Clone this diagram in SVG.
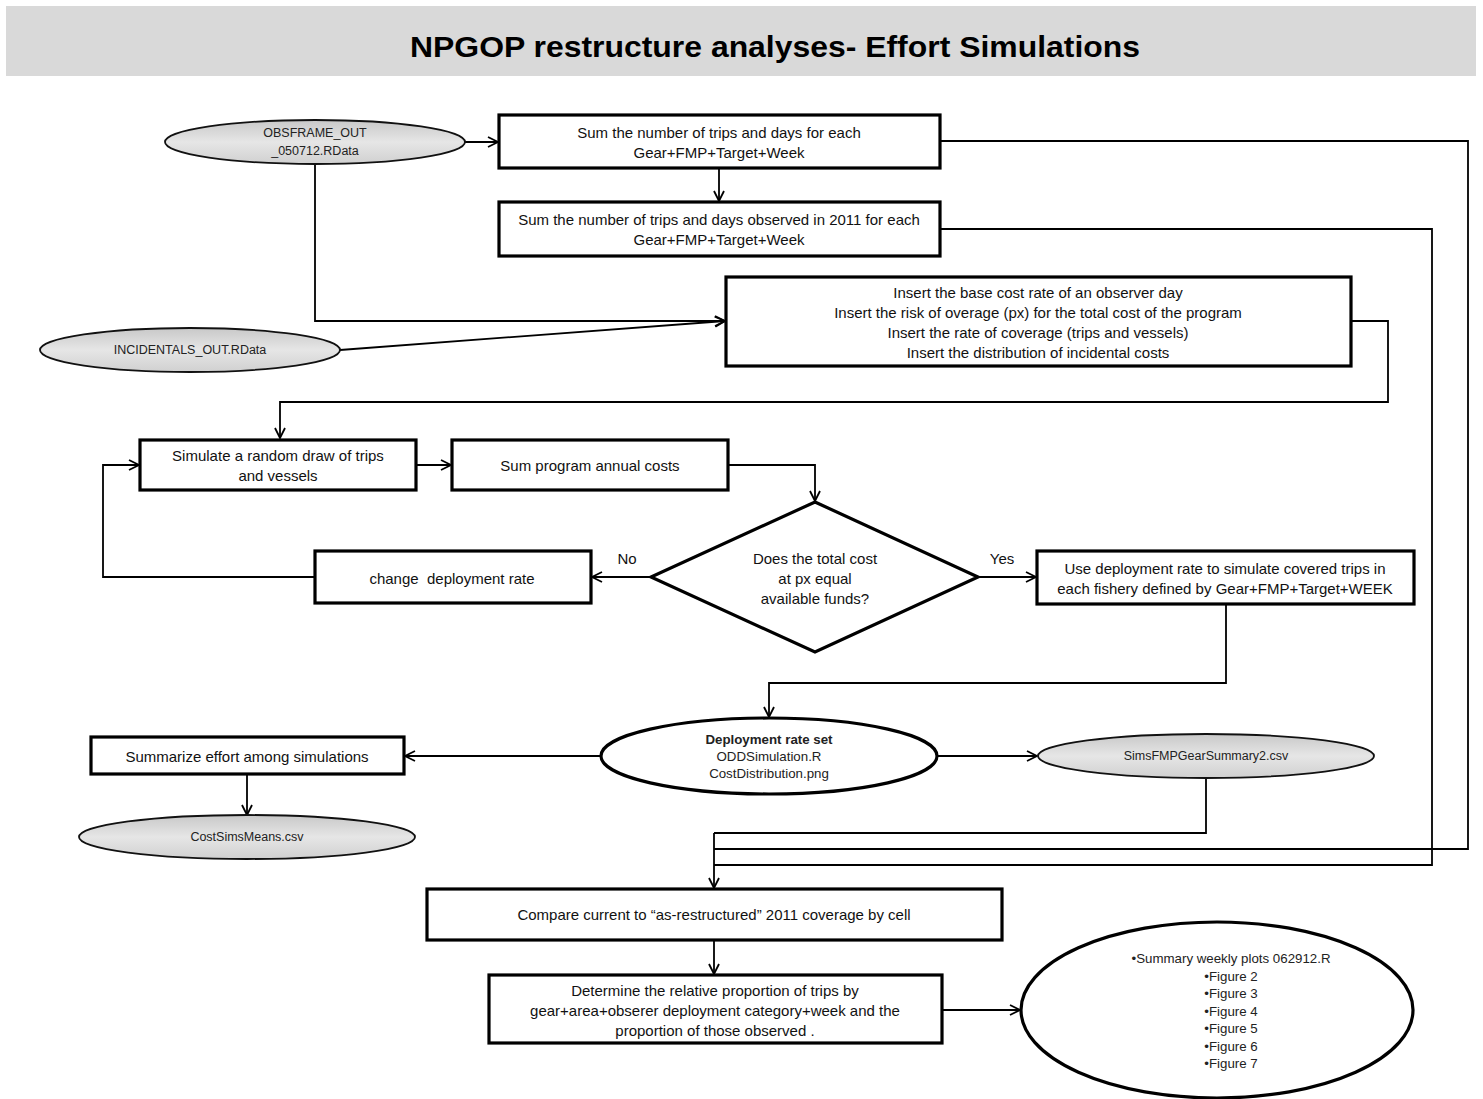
<svg xmlns="http://www.w3.org/2000/svg" width="1483" height="1099" viewBox="0 0 1483 1099">
<defs>
<linearGradient id="gray" x1="0" y1="0" x2="0" y2="1">
<stop offset="0" stop-color="#c8c8c8"/>
<stop offset="0.5" stop-color="#e6e6e6"/>
<stop offset="1" stop-color="#d0d0d0"/>
</linearGradient>
<marker id="arr" viewBox="0 0 12 12" refX="11" refY="6" markerWidth="12" markerHeight="12" markerUnits="userSpaceOnUse" orient="auto">
<path d="M1,1 L11,6 L1,11" fill="none" stroke="#000" stroke-width="1.8"/>
</marker>
</defs>
<style>
.box{fill:#fff;stroke:#000;stroke-width:3.2}
.ell{fill:url(#gray);stroke:#111;stroke-width:1.8}
.ellw{fill:#fff;stroke:#000;stroke-width:3.2}
.t{font-family:"Liberation Sans",Arial,sans-serif;font-size:15px;fill:#111;text-anchor:middle;dominant-baseline:central;white-space:pre}
.s{font-family:"Liberation Sans",Arial,sans-serif;font-size:12.5px;fill:#222;text-anchor:middle;dominant-baseline:central}
.m{font-size:13.3px}
.c{fill:none;stroke:#000;stroke-width:1.8}
</style>
<rect width="1483" height="1099" fill="#fff"/>
<g id="title">
<rect x="6" y="6" width="1470" height="70" fill="#d9d9d9"/>
<text x="775" y="47" font-family="Liberation Sans,Arial,sans-serif" font-weight="bold" font-size="29" text-anchor="middle" dominant-baseline="central" textLength="730" lengthAdjust="spacingAndGlyphs" fill="#000">NPGOP restructure analyses- Effort Simulations</text>
</g>
<g id="connectors">
<line class="c" x1="465" y1="142" x2="498" y2="142" marker-end="url(#arr)"/>
<line class="c" x1="719" y1="168" x2="719" y2="201" marker-end="url(#arr)"/>
<polyline class="c" points="315,164 315,321 725,321" marker-end="url(#arr)"/>
<line class="c" x1="340" y1="350" x2="725" y2="321" marker-end="url(#arr)"/>
<polyline class="c" points="1351,321 1388,321 1388,402 280,402 280,438" marker-end="url(#arr)"/>
<line class="c" x1="416" y1="465" x2="451" y2="465" marker-end="url(#arr)"/>
<polyline class="c" points="728,465 815,465 815,501" marker-end="url(#arr)"/>
<line class="c" x1="651" y1="577" x2="592" y2="577" marker-end="url(#arr)"/>
<polyline class="c" points="315,577 103,577 103,465 139,465" marker-end="url(#arr)"/>
<line class="c" x1="978" y1="577" x2="1036" y2="577" marker-end="url(#arr)"/>
<polyline class="c" points="1226,604 1226,683 769,683 769,717" marker-end="url(#arr)"/>
<line class="c" x1="601" y1="756" x2="405" y2="756" marker-end="url(#arr)"/>
<line class="c" x1="247" y1="774" x2="247" y2="815" marker-end="url(#arr)"/>
<line class="c" x1="937" y1="756" x2="1037" y2="756" marker-end="url(#arr)"/>
<polyline class="c" points="1206,778 1206,833 714,833"/>
<polyline class="c" points="940,141 1468,141 1468,849 714,849"/>
<polyline class="c" points="940,229 1432,229 1432,865 714,865"/>
<line class="c" x1="714" y1="833" x2="714" y2="888" marker-end="url(#arr)"/>
<line class="c" x1="714" y1="940" x2="714" y2="974" marker-end="url(#arr)"/>
<line class="c" x1="942" y1="1010" x2="1020" y2="1010" marker-end="url(#arr)"/>
<text class="t" x="627" y="558">No</text>
<text class="t" x="1002" y="558">Yes</text>
</g>
<g id="obsframe">
<ellipse class="ell" cx="315" cy="142" rx="150" ry="22"/>
<text class="s" x="315" y="133">OBSFRAME_OUT</text>
<text class="s" x="315" y="151">_050712.RData</text>
</g>
<g id="sum-trips">
<rect class="box" x="499" y="115" width="441" height="53"/>
<text class="t" x="719" y="132">Sum the number of trips and days for each</text>
<text class="t" x="719" y="152">Gear+FMP+Target+Week</text>
</g>
<g id="sum-observed">
<rect class="box" x="499" y="202" width="441" height="54"/>
<text class="t" x="719" y="219">Sum the number of trips and days observed in 2011 for each</text>
<text class="t" x="719" y="239">Gear+FMP+Target+Week</text>
</g>
<g id="incidentals">
<ellipse class="ell" cx="190" cy="350" rx="150" ry="22"/>
<text class="s" x="190" y="350">INCIDENTALS_OUT.RData</text>
</g>
<g id="insert">
<rect class="box" x="726" y="277" width="625" height="89"/>
<text class="t" x="1038" y="292">Insert the base cost rate of an observer day</text>
<text class="t" x="1038" y="312">Insert the risk of overage (px) for the total cost of the program</text>
<text class="t" x="1038" y="332">Insert the rate of coverage (trips and vessels)</text>
<text class="t" x="1038" y="352">Insert the distribution of incidental costs</text>
</g>
<g id="simulate">
<rect class="box" x="140" y="440" width="276" height="50"/>
<text class="t" x="278" y="455">Simulate a random draw of trips</text>
<text class="t" x="278" y="475">and vessels</text>
</g>
<g id="sum-costs">
<rect class="box" x="452" y="440" width="276" height="50"/>
<text class="t" x="590" y="465">Sum program annual costs</text>
</g>
<g id="decision">
<polygon points="815,502 978,577 815,652 651,577" fill="#fff" stroke="#000" stroke-width="3.2"/>
<text class="t" x="815" y="558">Does the total cost</text>
<text class="t" x="815" y="578">at px equal</text>
<text class="t" x="815" y="598">available funds?</text>
</g>
<g id="change-rate">
<rect class="box" x="315" y="551" width="276" height="52"/>
<text class="t" x="452" y="578" xml:space="preserve">change  deployment rate</text>
</g>
<g id="use-rate">
<rect class="box" x="1037" y="551" width="377" height="53"/>
<text class="t" x="1225" y="568">Use deployment rate to simulate covered trips in</text>
<text class="t" x="1225" y="588">each fishery defined by Gear+FMP+Target+WEEK</text>
</g>
<g id="deployment-set">
<ellipse class="ellw" cx="769" cy="756" rx="168" ry="38"/>
<text class="s m" x="769" y="739" font-weight="bold">Deployment rate set</text>
<text class="s m" x="769" y="756">ODDSimulation.R</text>
<text class="s m" x="769" y="773">CostDistribution.png</text>
</g>
<g id="summarize">
<rect class="box" x="91" y="737" width="313" height="37"/>
<text class="t" x="247" y="756">Summarize effort among simulations</text>
</g>
<g id="costsims">
<ellipse class="ell" cx="247" cy="837" rx="168" ry="22"/>
<text class="s" x="247" y="837">CostSimsMeans.csv</text>
</g>
<g id="simsfmp">
<ellipse class="ell" cx="1206" cy="756" rx="168" ry="22"/>
<text class="s" x="1206" y="756">SimsFMPGearSummary2.csv</text>
</g>
<g id="compare">
<rect class="box" x="427" y="889" width="575" height="51"/>
<text class="t" x="714" y="914">Compare current to “as-restructured” 2011 coverage by cell</text>
</g>
<g id="determine">
<rect class="box" x="489" y="975" width="453" height="68"/>
<text class="t" x="715" y="990">Determine the relative proportion of trips by</text>
<text class="t" x="715" y="1010">gear+area+obserer deployment category+week and the</text>
<text class="t" x="715" y="1030">proportion of those observed .</text>
</g>
<g id="figures">
<ellipse class="ellw" cx="1217" cy="1010" rx="196" ry="88"/>
<text class="s m" x="1231" y="958">•Summary weekly plots 062912.R</text>
<text class="s m" x="1231" y="976">•Figure 2</text>
<text class="s m" x="1231" y="993">•Figure 3</text>
<text class="s m" x="1231" y="1011">•Figure 4</text>
<text class="s m" x="1231" y="1028">•Figure 5</text>
<text class="s m" x="1231" y="1046">•Figure 6</text>
<text class="s m" x="1231" y="1063">•Figure 7</text>
</g>
</svg>
